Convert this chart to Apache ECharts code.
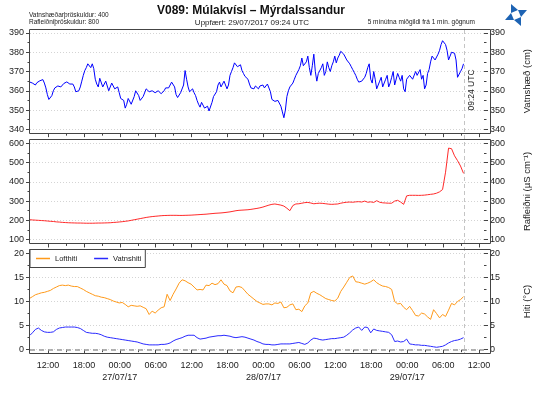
<!DOCTYPE html>
<html><head><meta charset="utf-8">
<script src="https://cdn.jsdelivr.net/npm/echarts@6/dist/echarts.min.js"></script>
<style>html,body{margin:0;padding:0;background:#fff}#c{width:540px;height:393px}</style>
</head><body><div id="c"></div>
<script>
// time: hours since 26/07/17 00:00 UTC
const FIRST_HOUR = 9.0;
const SAMPLE_START = 9.4;
const STEP_WL = 0.25;   // water level sampled every 15 min
const STEP = 0.5;       // other series every 30 min
const NOW_HOUR = 81.4;  // 29/07 09:24
const X_MIN = 9.0, X_MAX = 84.82;

const xTicks = [12,18,24,30,36,42,48,54,60,66,72,78,84];
const xLabels = ['12:00','18:00','00:00\n27/07/17','06:00','12:00','18:00','00:00\n28/07/17','06:00','12:00','18:00','00:00\n29/07/17','06:00','12:00'];
const xMinorTicks = [15,21,27,33,39,45,51,57,63,69,75,81];

// Vatnshæð (cm)
const waterLevel = [364.5,
 364,363.2,363,364.2,364,365.2,365.5,365.8,364,361.5,358,355.5,354.5,357.5,360,361.5,362,362.5,361.5,362,
 363,363.8,364,364.6,364,363.5,364,363.5,362,359.5,358.5,360,362,365,368,370.5,372,374,373,372,
 374,371.5,366,363.5,362,366.5,366,362,361,365,364,360,361,364,363,361,360,362,359,356,
 357,355,351,353,356,357,353,354,357,360,359.5,357.5,355,354,357,358,361,361,359.5,358.5,
 360,361,359,358.5,360,361,358.5,358.5,360,361.5,362,361.5,363,364.5,364,362,358,356.5,357,359,
 360,363,370.5,366,362,359.5,360,361,359,357.5,355,353,351.5,354,353,351,350.5,352,349.5,350,
 354,357,358,359.5,363,364.5,362,361,365,366,361,363,368,370,372,374.5,373.5,372.5,373,373.5,
 370.5,369,367.5,366.5,366,363.5,361.5,360.5,361,362.5,362,361,362.5,363.5,363,361.5,362,363.5,364,359.5,
 355.5,356,354.5,353.5,355,354,352,349,346,350,357,360,362,363,364,366,368,369,371,373,
 377,373,372,375,378,372,368,373,379,370,365,369,368,372,374,368,370,375,372,370,
 373,375,378,374.5,377,378.5,380.5,381,379,378,376,375.5,374,372.5,371,369.5,368,366,364.5,364,
 365,366,367,369,372,374,366,364,370,366,361,360,365,367,362,363,366,368,362,364,
 367,370,363,364,369,367,365,368,361,359.5,366,365,368,369,366,367,370,368,367,371,
 366,368,361,363,369,371,375,378,379,376,377,379,381,384,386,386.5,384,381,376,378,
 380,380.5,379.5,376,367,368,370,371.5,374];

// Rafleiðni (µS/cm)
const conductivity = [203,
 202,201,200,199,198,196.5,195,194,192,191,
 189.5,188.5,187.5,187,186.5,186,186,185.5,185,185,
 185,185.5,186,186,186.5,187,187.5,189,190,191.5,
 193,195,197,200,203,206,209,212,215,217.5,
 219.5,221,222.5,224,225,225.5,226,226,226,225.5,
 225.5,226,226.5,227,228,229,230,231,232,233.5,
 235,236.5,237.5,238.5,240,242,244,247,250,252,
 253,254,255,257,259.5,262,265,269,274,279,
 283,285,282,279,274,263,250,277,285,286,
 289,292,293,290,286,288,289,288,286,284,
 283,284,285,289,292,294,295,294,296,297,
 295,300,294,296,293,302,294,291,290,289,
 289,300,304,295,283,327,330,330,330,329.5,
 330,331,333,335,337,341,348,360,450,575,
 572,535,510,482,444];

// Lofthiti (°C)
const airTemp = [10.7,
 11.0,11.4,11.6,11.8,11.9,12.1,12.3,12.7,13.0,13.3,
 13.4,13.3,13.4,13.2,13.1,13.1,12.8,12.5,12.1,11.8,
 11.5,11.2,11.1,10.9,10.8,10.6,10.4,10.1,9.9,9.7,
 9.8,9.4,8.9,9.2,9.1,9.0,9.1,8.8,8.5,7.3,
 8.0,7.6,8.2,8.7,8.9,11.5,10.2,11.5,12.6,13.8,
 14.5,14.3,13.9,13.6,13.0,12.4,12.5,12.4,13.4,13.3,
 13.8,13.5,13.7,14.5,13.6,13.3,12.2,11.8,13.0,13.1,
 12.9,12.2,11.5,11.0,10.5,10.0,9.7,9.4,9.5,9.5,
 9.3,9.7,9.6,9.9,8.7,8.8,9.3,9.5,8.3,8.4,
 7.9,9.1,9.7,11.8,12.1,11.7,11.4,11.0,10.6,10.4,
 10.2,10.1,10.7,12.1,13.0,14.0,15.0,15.3,14.1,14.0,
 13.8,13.6,13.8,14.1,14.5,13.9,13.5,13.2,13.1,12.9,
 12.5,10.0,9.5,9.6,8.8,8.3,9.0,8.1,7.1,7.0,
 7.6,7.4,6.8,6.3,8.3,7.5,6.6,7.3,6.9,8.2,
 9.6,9.3,10.0,10.4,11.0];

// Vatnshiti (°C)
const waterTemp = [3.0,
 3.5,4.2,4.5,4.0,3.7,3.6,3.6,3.7,4.2,4.5,
 4.6,4.7,4.7,4.7,4.7,4.6,4.4,4.0,3.6,3.5,
 3.4,3.4,3.3,3.1,2.8,2.6,2.5,2.4,2.3,2.2,
 2.1,2.0,1.9,1.8,1.7,1.6,1.4,1.2,1.1,1.0,
 1.0,1.0,1.0,1.1,1.1,1.2,1.4,1.8,2.1,2.3,
 2.5,2.8,3.0,3.0,3.0,2.5,2.2,2.3,2.4,2.6,
 2.7,2.8,2.9,2.9,3.0,2.9,2.8,2.6,2.5,2.6,
 2.7,2.6,2.4,2.2,2.0,1.7,1.5,1.2,1.1,1.1,
 1.0,1.0,1.1,1.2,1.2,1.2,1.2,1.3,1.4,1.5,
 1.3,1.1,1.4,2.0,2.4,2.3,2.1,2.0,2.1,2.2,
 2.3,2.3,2.4,2.5,2.6,3.0,3.5,4.1,4.5,4.7,
 4.0,4.7,4.6,3.5,4.3,4.0,3.9,3.8,3.7,3.6,
 3.1,1.7,1.8,1.6,1.7,2.2,1.2,1.1,1.0,1.0,
 0.9,0.9,0.8,0.7,0.6,0.5,0.6,0.7,1.0,1.4,
 1.7,1.9,2.0,2.2,2.5];

const timeAxis = (n, step) => [FIRST_HOUR].concat(Array.from({length: n - 1}, (_, i) => SAMPLE_START + step * i));
const pairs = (arr, step) => { const t = timeAxis(arr.length, step); return arr.map((v, i) => [t[i], v]); };

const FONT = '"Liberation Sans", Arial, sans-serif';
const AX = '#444';
const PAD = 3.85;
const panels = [
  {top: 33, height: 96.3, min: 340, max: 390, interval: 10, name: 'Vatnshæð (cm)'},
  {top: 143.3, height: 96.3, min: 100, max: 600, interval: 100, name: 'Rafleiðni (µS cm⁻¹)'},
  {top: 253.3, height: 96.4, min: 0, max: 20, interval: 5, name: 'Hiti (°C)'}
];

const grid = panels.map(p => ({left: 30, right: 50, top: p.top, height: p.height}));
const xAxis = [];
const yAxis = [];
panels.forEach((p, i) => {
  xAxis.push({type: 'value', gridIndex: i, min: X_MIN, max: X_MAX, position: 'bottom', offset: PAD,
    axisLine: {show: false}, splitLine: {show: false},
    axisTick: {show: true, customValues: xTicks, length: 4, lineStyle: {color: AX}},
    axisLabel: {show: i === 2, customValues: xTicks, fontSize: 9, color: '#222', margin: 6, lineHeight: 12, fontFamily: FONT,
      formatter: v => { const k = xTicks.indexOf(Math.round(v)); return k >= 0 ? xLabels[k] : ''; }}});
  xAxis.push({type: 'value', gridIndex: i, min: X_MIN, max: X_MAX, position: 'bottom', offset: PAD,
    axisLine: {show: false}, splitLine: {show: false},
    axisTick: {show: true, customValues: xMinorTicks, length: 2.5, lineStyle: {color: AX}},
    axisLabel: {show: false}});
  ['left', 'right'].forEach(pos => {
    yAxis.push({type: 'value', gridIndex: i, position: pos, min: p.min, max: p.max, interval: p.interval,
      axisLine: {show: false},
      axisTick: {show: true, length: 4, lineStyle: {color: AX}},
      minorTick: {show: true, splitNumber: 2, length: 2.5, lineStyle: {color: AX}},
      axisLabel: {fontSize: 9, color: '#222', margin: 6, fontFamily: FONT},
      splitLine: {show: pos === 'left', lineStyle: {color: '#d4d4d4', type: [1, 2], width: 1}},
      name: pos === 'right' ? p.name : '', nameLocation: 'middle', nameRotate: 90, nameGap: 38,
      nameTextStyle: {fontSize: 9.5, color: '#222', fontFamily: FONT}});
  });
});

const series = [
  {name: 'Vatnshæð', type: 'line', xAxisIndex: 0, yAxisIndex: 0, data: pairs(waterLevel, STEP_WL), showSymbol: false,
   lineStyle: {color: '#0000ff', width: 1}, itemStyle: {color: '#0000ff'}},
  {name: 'Rafleiðni', type: 'line', xAxisIndex: 2, yAxisIndex: 2, data: pairs(conductivity, STEP), showSymbol: false,
   lineStyle: {color: '#ff2a2a', width: 1}, itemStyle: {color: '#ff2a2a'}},
  {name: 'Lofthiti', type: 'line', xAxisIndex: 4, yAxisIndex: 4, data: pairs(airTemp, STEP), showSymbol: false,
   lineStyle: {color: '#ff9a1a', width: 1}, itemStyle: {color: '#ff9a1a'}},
  {name: 'Vatnshiti', type: 'line', xAxisIndex: 4, yAxisIndex: 4, data: pairs(waterTemp, STEP), showSymbol: false,
   lineStyle: {color: '#2a2aff', width: 1}, itemStyle: {color: '#2a2aff'},
   markLine: {silent: true, symbol: 'none', label: {show: false},
     lineStyle: {color: '#9a9a9a', type: [5, 4], width: 1.5}, data: [{yAxis: 0}]}}
];

const chart = echarts.init(document.getElementById('c'), null, {renderer: 'canvas'});
chart.setOption({
  animation: false,
  backgroundColor: '#fff',
  grid, xAxis, yAxis, series,
  legend: {data: ['Lofthiti', 'Vatnshiti'], left: 30, top: 249.5, orient: 'horizontal', icon: 'rect',
    itemWidth: 14, itemHeight: 1.5, itemGap: 17, padding: [5, 4, 5, 6], borderColor: '#444', borderWidth: 1,
    borderRadius: 0, backgroundColor: '#fff', textStyle: {fontSize: 7.5, color: '#222', fontFamily: FONT}}
});

const nowX = chart.convertToPixel({xAxisIndex: 0}, NOW_HOUR);
const graphics = [];
panels.forEach(p => {
  graphics.push({type: 'rect', z: 50, silent: true,
    shape: {x: 29.5, y: Math.round(p.top - PAD) + 0.5, width: 461, height: 104},
    style: {fill: 'none', stroke: AX, lineWidth: 1}});
});
graphics.push({type: 'line', z: 40, silent: true,
  shape: {x1: Math.round(nowX) + 0.5, y1: 30, x2: Math.round(nowX) + 0.5, y2: 353},
  style: {stroke: '#c4c4c4', lineWidth: 1, lineDash: [4, 3]}});
graphics.push({type: 'text', z: 60, silent: true, x: nowX + 8, y: 90, rotation: Math.PI / 2,
  style: {text: '09:24 UTC', font: '8.5px ' + FONT, fill: '#222', textAlign: 'center', textVerticalAlign: 'middle'}});
graphics.push({type: 'text', silent: true, x: 251, y: 11,
  style: {text: 'V089: Múlakvísl – Mýrdalssandur', font: 'bold 12px ' + FONT, fill: '#111', textAlign: 'center', textVerticalAlign: 'middle'}});
graphics.push({type: 'text', silent: true, x: 252, y: 22.5,
  style: {text: 'Uppfært: 29/07/2017 09:24 UTC', font: '8px ' + FONT, fill: '#222', textAlign: 'center', textVerticalAlign: 'middle'}});
graphics.push({type: 'text', silent: true, x: 29, y: 15,
  style: {text: 'Vatnshæðarþröskuldur: 400', font: '6.5px ' + FONT, fill: '#222', textAlign: 'left', textVerticalAlign: 'middle'}});
graphics.push({type: 'text', silent: true, x: 29, y: 22.5,
  style: {text: 'Rafleiðniþröskuldur: 800', font: '6.5px ' + FONT, fill: '#222', textAlign: 'left', textVerticalAlign: 'middle'}});
graphics.push({type: 'text', silent: true, x: 475, y: 22.5,
  style: {text: '5 mínútna miðgildi frá 1 mín. gögnum', font: '6.5px ' + FONT, fill: '#222', textAlign: 'right', textVerticalAlign: 'middle'}});
// logo (pinwheel)
const cx = 516, cy = 15;
const tri = [[-5, -11], [-5, -2], [2, -5]];
for (let r = 0; r < 4; r++) {
  const pts = tri.map(([x, y]) => {
    let px = x, py = y;
    for (let k = 0; k < r; k++) { const t = px; px = -py; py = t; }
    return [cx + px, cy + py];
  });
  graphics.push({type: 'polygon', silent: true, shape: {points: pts}, style: {fill: '#1d63b3'}});
}
chart.setOption({graphic: graphics});
</script>
</body></html>
